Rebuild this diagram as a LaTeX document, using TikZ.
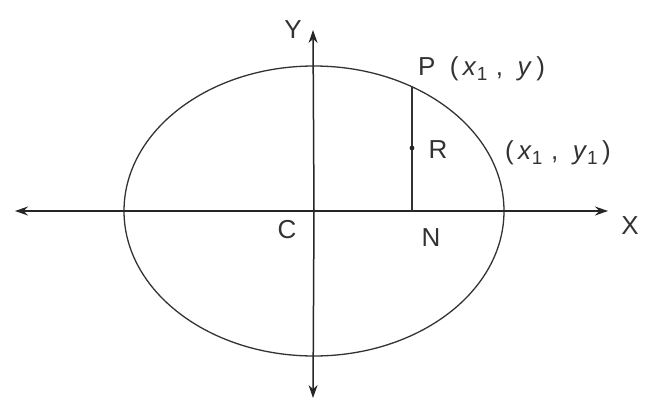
\documentclass[tikz,border=0pt]{standalone}
\usepackage{fontspec}
\setmainfont{Liberation Sans}
\usetikzlibrary{arrows.meta}
\newcommand{\vx}{\textit{x}}
\newcommand{\vy}{\textit{y}}
\newcommand{\sbone}{\raisebox{-0.35ex}{\fontsize{19}{22}\selectfont 1}}
\begin{document}
\begin{tikzpicture}[x=1pt,y=-1pt,
  curve/.style={draw=black!80, line width=1.3pt},
  axis/.style={draw=black!85, line width=1.5pt, -{Stealth[length=13pt,width=9pt]}},
  lbl/.style={font=\fontsize{26}{30}\selectfont, text=black!80, inner sep=0pt}]
\useasboundingbox (0,0) rectangle (652,401);
\fill[white] (0,0) rectangle (652,401);
\coordinate (C) at (314,211);
\coordinate (xl) at (15,211);
\coordinate (xr) at (608,211);
\coordinate (yt) at (313,30);
\coordinate (yb) at (313,398);
\draw[curve] (C) ellipse [x radius=190, y radius=145];
\draw[axis] (C) -- (xl);
\draw[axis] (C) -- (xr);
\draw[axis] (C) -- (yt);
\draw[axis] (C) -- (yb);
\coordinate (P) at (412,87);
\coordinate (N) at (412,211);
\coordinate (R) at (412,148);
\draw[curve, line width=1.5pt] (P) -- (N);
\fill[black!85] (R) circle (2.4pt);
\node[lbl] (Ylab) at (293,30) {Y};
\node[lbl] (Xlab) at (630,226) {X};
\node[lbl] (Clab) at (287,230) {C};
\node[lbl] (Nlab) at (431,238) {N};
\node[lbl] (Rlab) at (438,150) {R};
\node[lbl, anchor=west] (Plab) at (418,69) {P\ \ (\,\vx\sbone\,\,,\ \ \vy\,)};
\node[lbl, anchor=west] (Qlab) at (505,153) {(\,\vx\sbone\,\,,\ \ \vy\sbone\,)};
\end{tikzpicture}
\end{document}
